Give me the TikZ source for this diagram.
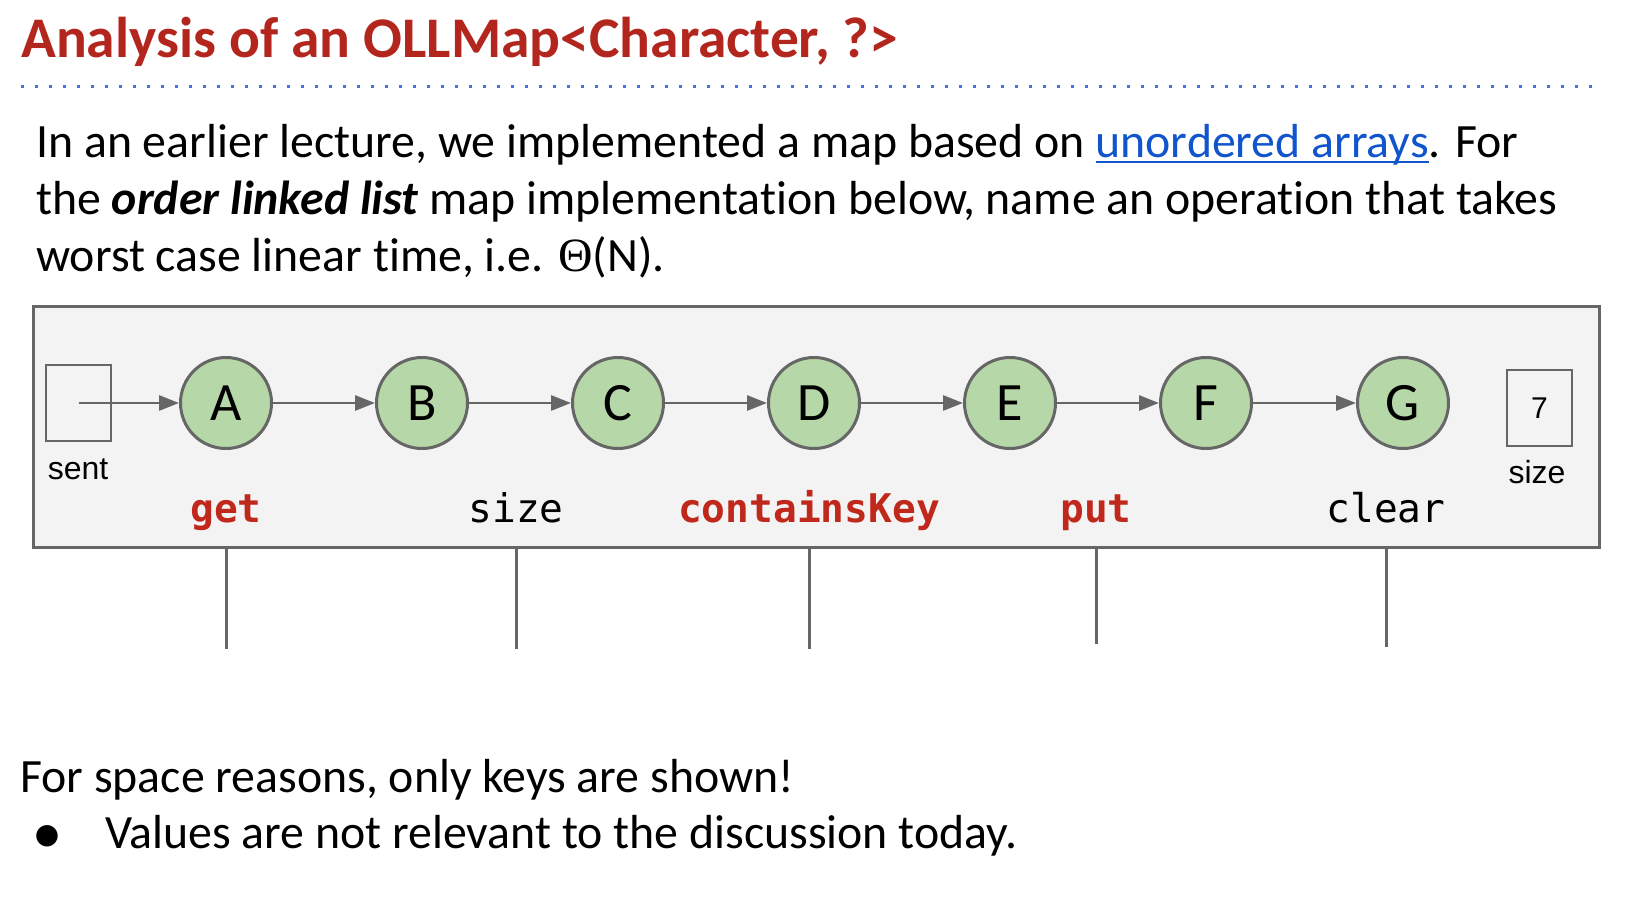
\documentclass[tikz,border=0pt]{standalone}
\usepackage{fontspec}
\setmainfont{Carlito}[Ligatures=NoCommon]
\newfontfamily\armfont{Liberation Sans}
\newfontfamily\codefont{DejaVu Sans Mono}
\newfontfamily\symfont{DejaVu Sans}
\newfontfamily\greekfont{Liberation Serif}
\usetikzlibrary{arrows.meta}
\definecolor{SlideRed}{HTML}{B3261E}
\definecolor{CodeRed}{HTML}{C0281B}
\definecolor{RuleBlue}{HTML}{3C78D8}
\definecolor{LinkBlue}{HTML}{1155CC}
\definecolor{NodeGreen}{HTML}{B6D7A8}
\definecolor{EdgeGray}{HTML}{666666}
\definecolor{PanelGray}{HTML}{F3F3F3}
\newcommand{\linkul}[1]{\setbox0\hbox{#1}\rlap{\rule[-6pt]{\wd0}{2.5pt}}\box0}

\begin{document}
\begin{tikzpicture}[x=1pt, y=-1pt,
    keynode/.style={circle, draw=EdgeGray, line width=3pt, fill=NodeGreen, minimum size=91pt, inner sep=0pt, font=\fontsize{54}{54}\selectfont},
    cellbox/.style={draw=EdgeGray, line width=1.2pt, minimum width=65pt, minimum height=76pt, inner sep=0pt, font=\armfont\fontsize{30}{30}\selectfont},
    smalltag/.style={anchor=base, inner sep=0pt, font=\armfont\fontsize{32}{32}\selectfont},
    nextptr/.style={-{Triangle[length=20pt, width=15pt]}, EdgeGray, line width=2.8pt},
    opname/.style={anchor=base, inner sep=0pt, font=\codefont\fontsize{39.5}{39.5}\selectfont},
    hotop/.style={opname, font=\codefont\bfseries\fontsize{39.5}{39.5}\selectfont, text=CodeRed},
    stem/.style={EdgeGray, line width=3pt},
    prose/.style={anchor=base west, inner sep=0pt, font=\fontsize{47.8}{47.8}\selectfont}]
    % page
    \fill[white] (0,0) rectangle (1632,910);
    \useasboundingbox (0,0) rectangle (1632,910);

    % Title and rule
    \node[anchor=base west, inner sep=0pt, text=SlideRed, font=\bfseries\fontsize{57.5}{57.5}\selectfont] (title) at (21,57) {Analysis of an OLLMap<Character, ?>};
    \draw[RuleBlue, line width=3pt, dash pattern=on 3pt off 11pt] (21,86) -- (1592,86);

    % Question
    \node[prose] (line1) at (36,157) {In an earlier lecture, we implemented a map based on \textcolor{LinkBlue}{\linkul{unordered arrays}}. For};
    \node[prose] (line2) at (36,214) {the \textbf{\textit{order linked list}} map implementation below, name an operation that takes};
    \node[prose] (line3) at (36,271) {worst case linear time, i.e. {\greekfont Θ}(N).};

    % Panel with the list
    \node[draw=EdgeGray, fill=PanelGray, line width=3pt, minimum width=1566pt, minimum height=241pt, inner sep=0pt] (panel) at (816,426.5) {};

    \node[cellbox] (sent) at (78.5,403) {};
    \node[smalltag] (sentlab) at (78,479) {sent};

    \node[keynode] (A) at (226,403) {A};
    \node[keynode] (B) at (422,403) {B};
    \node[keynode] (C) at (618,403) {C};
    \node[keynode] (D) at (814,403) {D};
    \node[keynode] (E) at (1010,403) {E};
    \node[keynode] (F) at (1206,403) {F};
    \node[keynode] (G) at (1403,403) {G};

    \node[cellbox] (count) at (1539.5,408) {7};
    \node[smalltag] (countlab) at (1537,483) {size};

    % Links
    \draw[nextptr] (sent.center) -- (A);
    \draw[nextptr] (A) -- (B);
    \draw[nextptr] (B) -- (C);
    \draw[nextptr] (C) -- (D);
    \draw[nextptr] (D) -- (E);
    \draw[nextptr] (E) -- (F);
    \draw[nextptr] (F) -- (G);

    % Operations
    \node[hotop] (getop) at (226,522) {get};
    \node[opname] (sizeop) at (516,522) {size};
    \node[hotop] (haskeyop) at (809,522) {containsKey};
    \node[hotop] (putop) at (1096,522) {put};
    \node[opname] (clearop) at (1386,522) {clear};

    \draw[stem] (getop |- panel.south) -- ++(0,100);
    \draw[stem] (sizeop |- panel.south) -- ++(0,100);
    \draw[stem] (haskeyop |- panel.south) -- ++(0,100);
    \draw[stem] (putop |- panel.south) -- ++(0,95);
    \draw[stem] (clearop |- panel.south) -- ++(0,98);

    % Note
    \node[prose] (note) at (20,792) {For space reasons, only keys are shown!};
    \node[inner sep=0pt, font=\symfont\fontsize{28}{28}\selectfont] (dot) at (47,836) {●};
    \node[prose] (bulletline) at (105,848) {Values are not relevant to the discussion today.};
\end{tikzpicture}
\end{document}
